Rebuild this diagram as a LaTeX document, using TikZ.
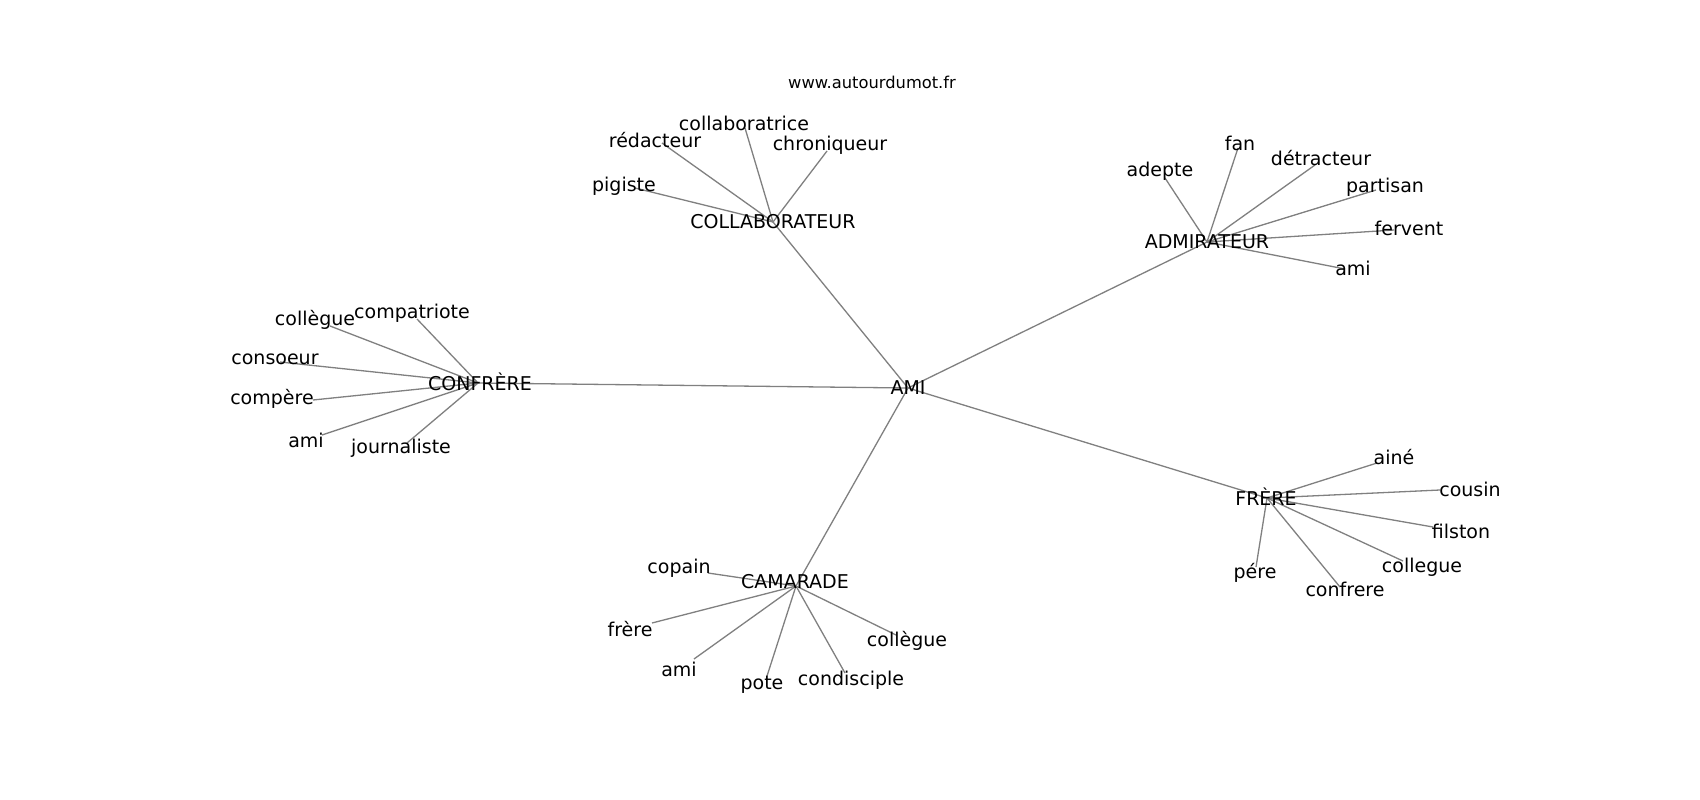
\documentclass[tikz,border=0pt]{standalone}
\usepackage{fontspec}
\setmainfont{DejaVu Sans}
\begin{document}
\begin{tikzpicture}[x=1pt,y=-1pt,
  lbl/.style={inner sep=0pt,font=\fontsize{19}{22}\selectfont,text=black},
  ttl/.style={inner sep=0pt,font=\fontsize{16.3}{19}\selectfont,text=black},
  edge/.style={draw=gray,line width=1.3pt}]
\useasboundingbox[fill=white] (0,0) rectangle (1700,800);
% hubs
\coordinate (ami0) at (908,388);
\coordinate (col0) at (773,222);
\coordinate (adm0) at (1207,242);
\coordinate (con0) at (478,383);
\coordinate (fre0) at (1267,498);
\coordinate (cam0) at (796,586);
% leaf line ends
\coordinate (c1) at (745,128);
\coordinate (c2) at (662,143);
\coordinate (c3) at (827,151);
\coordinate (c4) at (635,188);
\coordinate (a1) at (1238,148);
\coordinate (a2) at (1165,178);
\coordinate (a3) at (1315,165);
\coordinate (a4) at (1376,190);
\coordinate (a5) at (1394,230);
\coordinate (a6) at (1345,269);
\coordinate (k1) at (330,326);
\coordinate (k2) at (417,319);
\coordinate (k3) at (280,362);
\coordinate (k4) at (313,400);
\coordinate (k5) at (322,435);
\coordinate (k6) at (407,443);
\coordinate (f1) at (1377,463);
\coordinate (f2) at (1440,490);
\coordinate (f3) at (1433,527);
\coordinate (f4) at (1403,561);
\coordinate (f5) at (1340,587);
\coordinate (f6) at (1256,567);
\coordinate (m1) at (708,573);
\coordinate (m2) at (652,623);
\coordinate (m3) at (896,635);
\coordinate (m4) at (694,659);
\coordinate (m5) at (767,676);
\coordinate (m6) at (845,673);
% edges
\foreach \h in {col0,adm0,con0,fre0,cam0} \draw[edge] (ami0) -- (\h);
\foreach \l in {c1,c2,c3,c4} \draw[edge] (col0) -- (\l);
\foreach \l in {a1,a2,a3,a4,a5,a6} \draw[edge] (adm0) -- (\l);
\foreach \l in {k1,k2,k3,k4,k5,k6} \draw[edge] (con0) -- (\l);
\foreach \l in {f1,f2,f3,f4,f5,f6} \draw[edge] (fre0) -- (\l);
\foreach \l in {m1,m2,m3,m4,m5,m6} \draw[edge] (cam0) -- (\l);
% title
\node[ttl] (title) at (872,82) {www.autourdumot.fr};
% hub labels
\node[lbl] (AMI) at (908,388) {AMI};
\node[lbl] (COL) at (773,222) {COLLABORATEUR};
\node[lbl] (ADM) at (1207,242) {ADMIRATEUR};
\node[lbl] (CON) at (480,382) {CONFRÈRE};
\node[lbl] (FRE) at (1266,497) {FRÈRE};
\node[lbl] (CAM) at (795,582) {CAMARADE};
% leaves
\node[lbl] (lc1) at (744,123) {collaboratrice};
\node[lbl] (lc2) at (655,140) {rédacteur};
\node[lbl] (lc3) at (830,145) {chroniqueur};
\node[lbl] (lc4) at (624,186) {pigiste};
\node[lbl] (la1) at (1240,143) {fan};
\node[lbl] (la2) at (1160,171) {adepte};
\node[lbl] (la3) at (1321,158) {détracteur};
\node[lbl] (la4) at (1385,187) {partisan};
\node[lbl] (la5) at (1409,228) {fervent};
\node[lbl] (la6) at (1353,268) {ami};
\node[lbl] (lk1) at (315,320) {collègue};
\node[lbl] (lk2) at (412,313) {compatriote};
\node[lbl] (lk3) at (275,359) {consoeur};
\node[lbl] (lk4) at (272,399) {compère};
\node[lbl] (lk5) at (306,440) {ami};
\node[lbl] (lk6) at (401,448) {journaliste};
\node[lbl] (lf1) at (1394,457) {ainé};
\node[lbl] (lf2) at (1470,489) {cousin};
\node[lbl] (lf3) at (1461,531) {filston};
\node[lbl] (lf4) at (1422,567) {collegue};
\node[lbl] (lf5) at (1345,589) {confrere};
\node[lbl] (lf6) at (1255,573) {pére};
\node[lbl] (lm1) at (679,568) {copain};
\node[lbl] (lm2) at (630,629) {frère};
\node[lbl] (lm3) at (907,641) {collègue};
\node[lbl] (lm4) at (679,669) {ami};
\node[lbl] (lm5) at (762,685) {pote};
\node[lbl] (lm6) at (851,680) {condisciple};
\end{tikzpicture}
\end{document}
